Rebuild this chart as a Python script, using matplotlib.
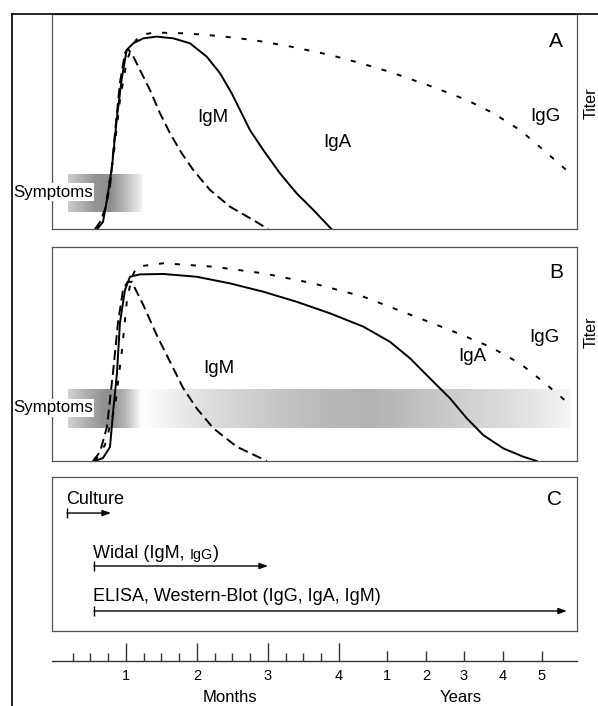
import numpy as np
import matplotlib
matplotlib.use("Agg")
import matplotlib.pyplot as plt
from matplotlib.lines import Line2D
from matplotlib.colors import LinearSegmentedColormap

plt.rcParams['font.family'] = ['Liberation Sans', 'DejaVu Sans']

# x = position on the time scale (0-4 months, then compressed years), y = titer (0-100)
# panel A
a_igm_x = [0.563, 0.634, 0.704, 0.775, 0.845, 0.915, 0.986, 1.028, 1.100, 1.197, 1.338, 1.479, 1.620, 1.785, 1.948, 2.183, 2.465, 2.793, 3.004]
a_igm_y = [0, 3.4, 9.0, 19.6, 44.7, 68.0, 81.9, 83.8, 80.5, 74.0, 64.7, 53.9, 44.6, 35.3, 27.5, 18.3, 10.5, 4.3, 0]
a_iga_x = [0.592, 0.676, 0.732, 0.803, 0.873, 0.944, 1.010, 1.103, 1.244, 1.432, 1.666, 1.901, 2.137, 2.324, 2.489, 2.606, 2.746, 2.934, 3.169, 3.404, 3.638, 3.897]
a_iga_y = [0, 3.4, 13.6, 29.0, 52.1, 70.7, 83.3, 86.4, 88.7, 89.5, 88.7, 86.4, 80.2, 72.5, 63.2, 55.4, 46.1, 36.8, 26.0, 16.7, 9.0, 0]
a_igg_x = [0.592, 0.704, 0.817, 0.915, 1.014, 1.100, 1.197, 1.400, 1.855, 2.300, 2.793, 3.300, 3.873, 4.300, 4.718, 5.324, 5.803, 6.169, 6.549, 6.930, 7.282]
a_igg_y = [0, 9.0, 32.2, 60.0, 78.6, 86.0, 90.2, 91.4, 91.0, 89.8, 87.9, 85.0, 81.0, 77.2, 73.1, 66.1, 60.0, 54.0, 46.1, 35.4, 25.2]

# panel B
b_igm_x = [0.535, 0.634, 0.732, 0.817, 0.887, 0.958, 1.020, 1.080, 1.244, 1.432, 1.620, 1.807, 1.996, 2.230, 2.559, 2.982]
b_igm_y = [0, 4.2, 15.9, 41.1, 64.5, 79.9, 83.6, 83.8, 72.9, 58.9, 46.4, 34.0, 24.6, 15.3, 6.7, 0]
b_iga_x = [0.563, 0.676, 0.775, 0.817, 0.873, 0.915, 0.986, 1.056, 1.197, 1.525, 1.996, 2.465, 2.934, 3.404, 3.873, 4.342, 4.718, 5.000, 5.282, 5.563, 5.799, 6.032, 6.314, 6.596, 6.785]
b_iga_y = [0, 1.4, 6.5, 22.4, 41.1, 64.5, 79.9, 86.1, 87.2, 87.4, 86.1, 83.0, 79.1, 74.4, 69.0, 62.8, 55.7, 48.0, 38.6, 29.3, 20.0, 12.1, 5.9, 2.0, 0]
b_igg_x = [0.563, 0.704, 0.845, 0.944, 1.014, 1.080, 1.151, 1.525, 2.230, 2.934, 3.638, 4.342, 4.954, 5.563, 6.127, 6.549, 6.877, 7.225]
b_igg_y = [0, 7.5, 25.2, 51.9, 75.2, 85.5, 90.8, 92.4, 90.8, 87.7, 83.0, 76.8, 69.0, 61.2, 53.4, 45.6, 37.0, 27.1]

# symptom bands: x range, titer range, grey stops
sym_a_x = [0.183, 1.239]
sym_a_y = [8.0, 25.2]
sym_a_stops = [(0, 0.80), (0.36, 0.58), (0.56, 0.55), (0.76, 0.72), (1.0, 0.97)]
sym_b_x = [0.183, 7.254]
sym_b_y = [15.4, 33.2]
sym_b_stops = [(0, 0.82), (0.044, 0.65), (0.08, 0.55), (0.114, 0.72), (0.145, 1.0), (0.163, 0.98),
               (0.263, 0.88), (0.382, 0.80), (0.502, 0.73), (0.602, 0.70), (0.701, 0.76),
               (0.801, 0.82), (0.9, 0.88), (1.0, 0.96)]

# panel C tests
tests = ["Culture", "Widal (IgM, ", "ELISA, Western-Blot (IgG, IgA, IgM)"]
test_start = [0.169, 0.549, 0.549]
test_end = [0.789, 3.0, 7.21]

month_ticks = [1, 2, 3, 4]
week_ticks = [i / 4 for i in range(1, 16) if i % 4]
year_ticks = [4.676, 5.225, 5.761, 6.310, 6.859]
year_labels = ["1", "2", "3", "4", "5"]

XL = (-0.046, 7.352)
W, H = 598, 706
LW = 1.4
long_dash = (0, (5.1, 2.6))
short_dash = (0, (2.6, 5.6))
spine_col = '#555555'

fig = plt.figure(figsize=(W / 100, H / 100), dpi=100)


def box(top, bottom):
    return [51.7 / W, 1 - bottom / H, (577 - 51.7) / W, (bottom - top) / H]


def style(ax):
    ax.set_xlim(*XL)
    ax.set_xticks([])
    ax.set_yticks([])
    for s in ax.spines.values():
        s.set_color(spine_col)
        s.set_linewidth(0.9)


def band(ax, xr, yr, stops):
    cm = LinearSegmentedColormap.from_list('b', [(p, (g, g, g)) for p, g in stops])
    ax.imshow(np.linspace(0, 1, 512)[None, :], cmap=cm, vmin=0, vmax=1, aspect='auto',
              extent=[xr[0], xr[1], yr[0], yr[1]], zorder=0, interpolation='bilinear')


axA = fig.add_axes(box(14, 229.3))
band(axA, sym_a_x, sym_a_y, sym_a_stops)
axA.plot(a_igm_x, a_igm_y, color='k', lw=LW, ls=long_dash)
axA.plot(a_iga_x, a_iga_y, color='k', lw=LW)
axA.plot(a_igg_x, a_igg_y, color='k', lw=LW, ls=short_dash)
style(axA)
axA.set_ylim(0, 100)
axA.text(2.225, 51.7, "IgM", ha='center', va='center', fontsize=13.5)
axA.text(3.972, 40.1, "IgA", ha='center', va='center', fontsize=13.5)
axA.text(6.901, 52.6, "IgG", ha='center', va='center', fontsize=13.5)
axA.text(7.056, 87.4, "A", ha='center', va='center', fontsize=15)
axA.text(-0.592, 17.3, "Symptoms", ha='left', va='center', fontsize=12.2, clip_on=False,
         bbox=dict(fc='white', ec='none', pad=1.2))

axB = fig.add_axes(box(247, 461))
band(axB, sym_b_x, sym_b_y, sym_b_stops)
axB.plot(b_igm_x, b_igm_y, color='k', lw=LW, ls=long_dash)
axB.plot(b_iga_x, b_iga_y, color='k', lw=LW)
axB.plot(b_igg_x, b_igg_y, color='k', lw=LW, ls=short_dash)
style(axB)
axB.set_ylim(0, 100)
axB.text(2.310, 43.0, "IgM", ha='center', va='center', fontsize=13.5)
axB.text(5.873, 48.6, "IgA", ha='center', va='center', fontsize=13.5)
axB.text(6.887, 57.5, "IgG", ha='center', va='center', fontsize=13.5)
axB.text(7.056, 88.3, "B", ha='center', va='center', fontsize=15)
axB.text(-0.592, 24.8, "Symptoms", ha='left', va='center', fontsize=12.2, clip_on=False,
         bbox=dict(fc='white', ec='none', pad=1.2))

axC = fig.add_axes(box(477, 631))
style(axC)
axC.set_ylim(0, 1)
arrow_y = [0.766, 0.422, 0.130]
text_y = [0.857, 0.506, 0.227]
for name, x0, x1, ay, ty in zip(tests, test_start, test_end, arrow_y, text_y):
    axC.annotate('', xy=(x1, ay), xytext=(x0, ay),
                 arrowprops=dict(arrowstyle='-|>,head_length=0.5,head_width=0.18', color='k',
                                 lw=1.0, shrinkA=0, shrinkB=0))
    axC.plot([x0], [ay], marker='|', color='k', ms=7, mew=1.0)
    t = axC.text(x0 - 0.015, ty, name, ha='left', va='center', fontsize=13)
    if name.startswith("Widal"):
        t2 = axC.annotate("IgG", xy=(1, 0), xycoords=t, ha='left', va='bottom', fontsize=10.3)
        axC.annotate(")", xy=(1, 0), xycoords=t2, ha='left', va='bottom', fontsize=13)
axC.text(7.04, 0.851, "C", ha='center', va='center', fontsize=15)

# time scale
axS = fig.add_axes([51.7 / W, 1 - 661 / H, (577 - 51.7) / W, 25 / H])
axS.set_xlim(*XL)
axS.set_yticks([])
for s in ['left', 'right', 'top']:
    axS.spines[s].set_visible(False)
axS.spines['bottom'].set_color('#333333')
axS.spines['bottom'].set_linewidth(1.0)
axS.patch.set_alpha(0)
axS.set_xticks(month_ticks + year_ticks)
axS.set_xticklabels([str(m) for m in month_ticks] + year_labels, fontsize=10.5)
axS.set_xticks(week_ticks, minor=True)
axS.tick_params(axis='x', which='major', direction='in', length=13, width=1.0, pad=6, color='#333333')
axS.tick_params(axis='x', which='minor', direction='in', length=5.8, width=1.0, color='#333333')
for tk in axS.xaxis.get_major_ticks()[len(month_ticks):]:
    tk.tick1line.set_markersize(7.2)

fig.text(230 / W, 1 - 698 / H, "Months", ha='center', va='center', fontsize=12)
fig.text(461 / W, 1 - 698 / H, "Years", ha='center', va='center', fontsize=12)
fig.text(591 / W, 1 - 103 / H, "Titer", ha='center', va='center', rotation=90, fontsize=11.5)
fig.text(591 / W, 1 - 332 / H, "Titer", ha='center', va='center', rotation=90, fontsize=11.5)

# outer frame lines
fig.add_artist(Line2D([11.5 / W, 1], [1 - 14 / H] * 2, transform=fig.transFigure, color='k', lw=1.2))
fig.add_artist(Line2D([11.5 / W] * 2, [0, 1 - 14 / H], transform=fig.transFigure, color='k', lw=1.2))

fig.savefig("out.png", dpi=100)
plt.close(fig)
